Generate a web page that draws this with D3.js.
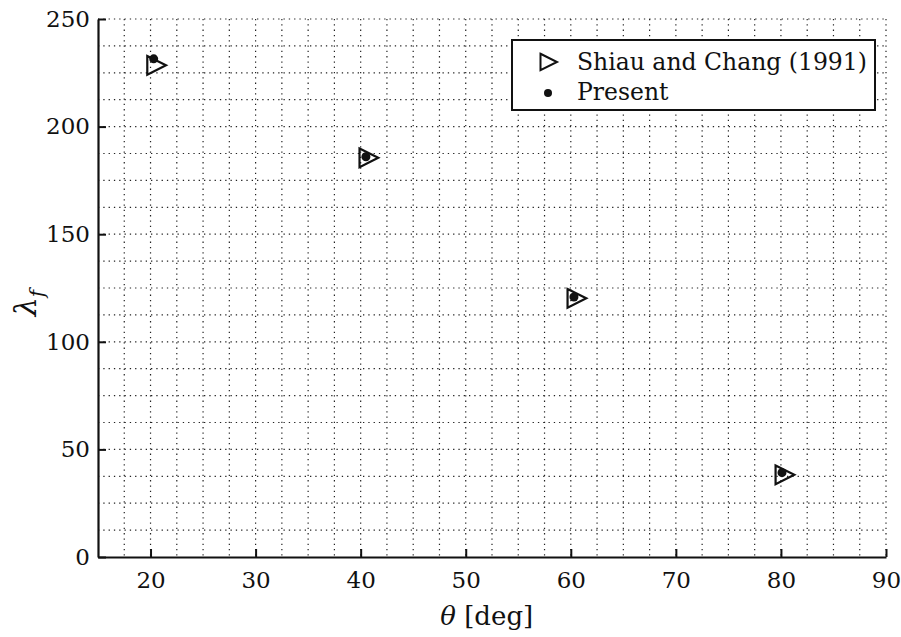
<!DOCTYPE html>
<meta charset="utf-8">
<script src="https://d3js.org/d3.v7.min.js"></script>
<style>
  body { margin: 0; background: #fff; }
  text { font-family: "DejaVu Serif", serif; fill: #111; }
</style>
<div id="chart"></div>
<script>

// data
var thetaShiau = [20.5, 40.7, 60.5, 80.3];
var lambdaShiau = [228.5, 185.5, 120.2, 38.2];
var thetaPresent = [20.3, 40.5, 60.3, 80.1];
var lambdaPresent = [231.5, 186, 120.8, 39.2];
var xTicks = [20, 30, 40, 50, 60, 70, 80, 90];
var yTicks = [0, 50, 100, 150, 200, 250];
var legendLabels = ["Shiau and Chang (1991)", "Present"];

var W = 901, H = 637;
var margin = {top: 19, right: 15, bottom: 80, left: 98};
var width = W - margin.left - margin.right,
    height = H - margin.top - margin.bottom;

var svg = d3.select("#chart").append("svg")
    .attr("width", W).attr("height", H)
  .append("g")
    .attr("transform", "translate(" + margin.left + "," + margin.top + ")");

var x = d3.scaleLinear().domain([15, 90]).range([0, width]);
var y = d3.scaleLinear().domain([0, 250]).range([height, 0]);

// dotted grid, every 2.5 deg and every 12.5
var gx = d3.range(17.5, 90.01, 2.5);
var gy = d3.range(12.5, 250.01, 12.5);
svg.selectAll(".vgrid").data(gx).enter().append("line")
    .attr("x1", function(d){ return x(d) }).attr("x2", function(d){ return x(d) })
    .attr("y1", 0).attr("y2", height)
    .attr("stroke", "#222").attr("stroke-width", 1.2)
    .attr("stroke-dasharray", "1.3,4");
svg.selectAll(".hgrid").data(gy).enter().append("line")
    .attr("y1", function(d){ return y(d) }).attr("y2", function(d){ return y(d) })
    .attr("x1", 0).attr("x2", width)
    .attr("stroke", "#222").attr("stroke-width", 1.2)
    .attr("stroke-dasharray", "1.3,4");

// axes (ticks pointing inward)
var xAxis = svg.append("g")
    .attr("transform", "translate(0," + height + ")")
    .call(d3.axisBottom(x).tickValues(xTicks).tickSizeInner(-8).tickSizeOuter(0).tickPadding(18));
var yAxis = svg.append("g")
    .call(d3.axisLeft(y).tickValues(yTicks).tickSizeInner(-8).tickSizeOuter(0).tickPadding(8));

[xAxis, yAxis].forEach(function(a){
  a.attr("font-family", null).attr("font-size", null);
  a.select(".domain").attr("stroke", "#111").attr("stroke-width", 2.2);
  a.selectAll(".tick line").attr("stroke", "#111").attr("stroke-width", 2);
  a.selectAll("text").style("font-size", "23px").attr("fill", "#111");
});
xAxis.selectAll("text").attr("dy", "0.55em");

// axis titles
svg.append("text")
    .attr("x", x(52)).attr("y", height + 68)
    .attr("text-anchor", "middle")
    .style("font-size", "26px")
    .html('<tspan font-style="italic">θ</tspan> [deg]');

svg.append("text")
    .attr("transform", "translate(" + (-62) + "," + y(118) + ") rotate(-90)")
    .attr("text-anchor", "middle")
    .style("font-size", "30px")
    .html('<tspan font-style="italic">λ</tspan><tspan font-style="italic" font-size="20px" dy="8">f</tspan>');

// markers
function tri(cx, cy, s) {
  return "M" + (cx - s * 0.5) + "," + (cy - s * 0.55) +
    "L" + (cx + s * 0.6) + "," + cy +
    "L" + (cx - s * 0.5) + "," + (cy + s * 0.55) + "Z";
}

svg.selectAll(".shiau").data(thetaShiau).enter().append("path")
    .attr("d", function(d, i){ return tri(x(d), y(lambdaShiau[i]), 17) })
    .attr("fill", "none").attr("stroke", "#111").attr("stroke-width", 2.2);

svg.selectAll(".present").data(thetaPresent).enter().append("circle")
    .attr("cx", function(d){ return x(d) })
    .attr("cy", function(d, i){ return y(lambdaPresent[i]) })
    .attr("r", 4.5).attr("fill", "#111");

// legend
var lg = svg.append("g").attr("transform", "translate(" + (512 - margin.left) + "," + (40 - margin.top) + ")");
lg.append("rect").attr("width", 363).attr("height", 70)
    .attr("fill", "#fff").attr("stroke", "#111").attr("stroke-width", 2);
lg.append("path").attr("d", tri(36, 22, 15))
    .attr("fill", "none").attr("stroke", "#111").attr("stroke-width", 2);
lg.append("circle").attr("cx", 36).attr("cy", 53).attr("r", 4).attr("fill", "#111");
lg.selectAll(".ltext").data(legendLabels).enter().append("text")
    .attr("x", 65).attr("y", function(d, i){ return 30 + i * 30 })
    .style("font-size", "23.5px")
    .text(function(d){ return d });

</script>
